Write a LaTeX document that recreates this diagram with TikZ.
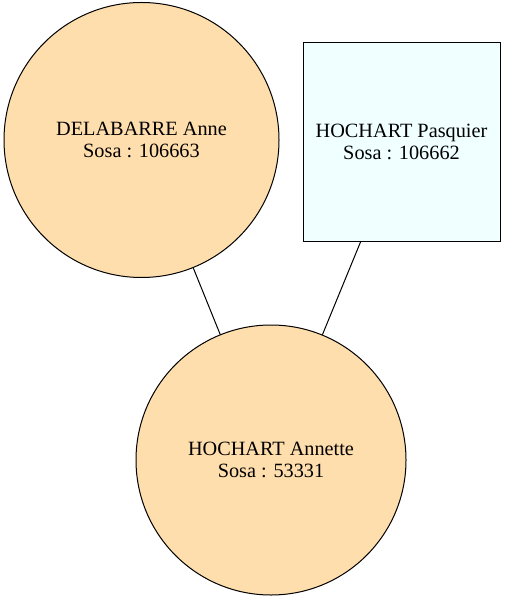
\documentclass[tikz,border=0pt]{standalone}
\usepackage{fontspec}
\setmainfont{Liberation Serif}
\definecolor{peach}{HTML}{FFDEAD}
\definecolor{azur}{HTML}{F0FFFF}
\tikzset{
  person/.style={draw, line width=0.75pt, align=center, inner sep=0pt, font=\fontsize{15.2}{17}\selectfont},
  femme/.style={person, circle, fill=peach},
  homme/.style={person, rectangle, fill=azur}
}
\begin{document}
\begin{tikzpicture}[x=0.75pt, y=-0.75pt]
        \useasboundingbox (0,0) rectangle (507,602);
        \node [femme, minimum size=206.25pt] (anne) at (141.5,140) {DELABARRE Anne\\Sosa : 106663};
        \node [homme, minimum width=147.75pt, minimum height=148.5pt] (pasquier) at (401.5,142) {HOCHART Pasquier\\Sosa : 106662};
        \node [femme, minimum size=202.5pt] (annette) at (271,460) {HOCHART Annette\\Sosa : 53331};
        \draw [line width=0.75pt] (anne) -- (annette);
        \draw [line width=0.75pt] (pasquier) -- (annette);
    \end{tikzpicture}
\end{document}
